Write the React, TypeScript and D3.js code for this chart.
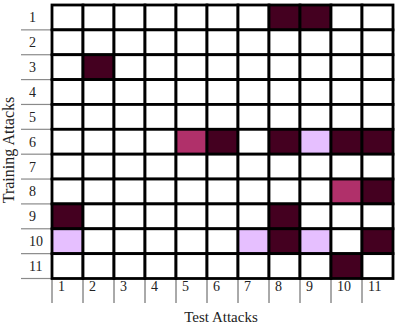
import React from "react";
import * as d3 from "d3";

// test attacks (columns) and training attacks (rows)
const testAttacks = ["1", "2", "3", "4", "5", "6", "7", "8", "9", "10", "11"];
const trainingAttacks = ["1", "2", "3", "4", "5", "6", "7", "8", "9", "10", "11"];

// 0 = none, 1 = light, 2 = medium, 3 = strong
const levels = [0, 1, 2, 3];
const levelColors = ["#ffffff", "#e6bfff", "#b0306a", "#440020"];

const matrix = [
  [0, 0, 0, 0, 0, 0, 0, 3, 3, 0, 0],
  [0, 0, 0, 0, 0, 0, 0, 0, 0, 0, 0],
  [0, 3, 0, 0, 0, 0, 0, 0, 0, 0, 0],
  [0, 0, 0, 0, 0, 0, 0, 0, 0, 0, 0],
  [0, 0, 0, 0, 0, 0, 0, 0, 0, 0, 0],
  [0, 0, 0, 0, 2, 3, 0, 3, 1, 3, 3],
  [0, 0, 0, 0, 0, 0, 0, 0, 0, 0, 0],
  [0, 0, 0, 0, 0, 0, 0, 0, 0, 2, 3],
  [3, 0, 0, 0, 0, 0, 0, 3, 0, 0, 0],
  [1, 0, 0, 0, 0, 0, 1, 3, 1, 0, 3],
  [0, 0, 0, 0, 0, 0, 0, 0, 0, 3, 0],
];

const W = 402;
const H = 328;
const font = "'Liberation Serif', 'Times New Roman', serif";

export default function App() {
  const x = d3.scaleBand().domain(testAttacks).range([52, 393]).padding(0);
  const y = d3.scaleBand().domain(trainingAttacks).range([5, 278.5]).padding(0);
  const color = d3.scaleOrdinal<number, string>().domain(levels).range(levelColors);

  const cells = matrix.flatMap((row, i) =>
    row.map((v, j) => ({ row: trainingAttacks[i], col: testAttacks[j], v }))
  );
  const bottom = y.range()[1];
  const left = x.range()[0];

  return (
    <svg
      width={W}
      height={H}
      style={{ position: "absolute", left: 0, top: 0, background: "#fff" }}
    >
      {/* row separators in label column */}
      {trainingAttacks.map((r) => (
        <line
          key={"rs" + r}
          x1={21}
          x2={left}
          y1={(y(r) as number) + y.bandwidth()}
          y2={(y(r) as number) + y.bandwidth()}
          stroke="#8a8a8a"
          strokeWidth={1.2}
        />
      ))}
      {/* column separators under the grid */}
      {testAttacks.map((c) => (
        <line
          key={"cs" + c}
          x1={x(c)}
          x2={x(c)}
          y1={bottom}
          y2={303}
          stroke="#555"
          strokeWidth={1}
        />
      ))}
      {cells.map((d) => (
        <rect
          key={d.row + "-" + d.col}
          x={x(d.col)}
          y={y(d.row)}
          width={x.bandwidth()}
          height={y.bandwidth()}
          fill={color(d.v)}
          stroke="#000"
          strokeWidth={2.8}
        />
      ))}
      {trainingAttacks.map((r) => (
        <text
          key={"rl" + r}
          x={29}
          y={(y(r) as number) + y.bandwidth() / 2}
          dy="0.35em"
          fontFamily={font}
          fontSize={14}
          fill="#222"
        >
          {r}
        </text>
      ))}
      {testAttacks.map((c) => (
        <text
          key={"cl" + c}
          x={(x(c) as number) + 6}
          y={290.5}
          fontFamily={font}
          fontSize={14}
          fill="#222"
        >
          {c}
        </text>
      ))}
      <text
        x={221}
        y={322}
        textAnchor="middle"
        fontFamily={font}
        fontSize={15}
        fill="#222"
      >
        Test Attacks
      </text>
      <text
        transform="translate(14,150) rotate(-90)"
        textAnchor="middle"
        fontFamily={font}
        fontSize={16}
        fill="#222"
      >
        Training Attacks
      </text>
    </svg>
  );
}
